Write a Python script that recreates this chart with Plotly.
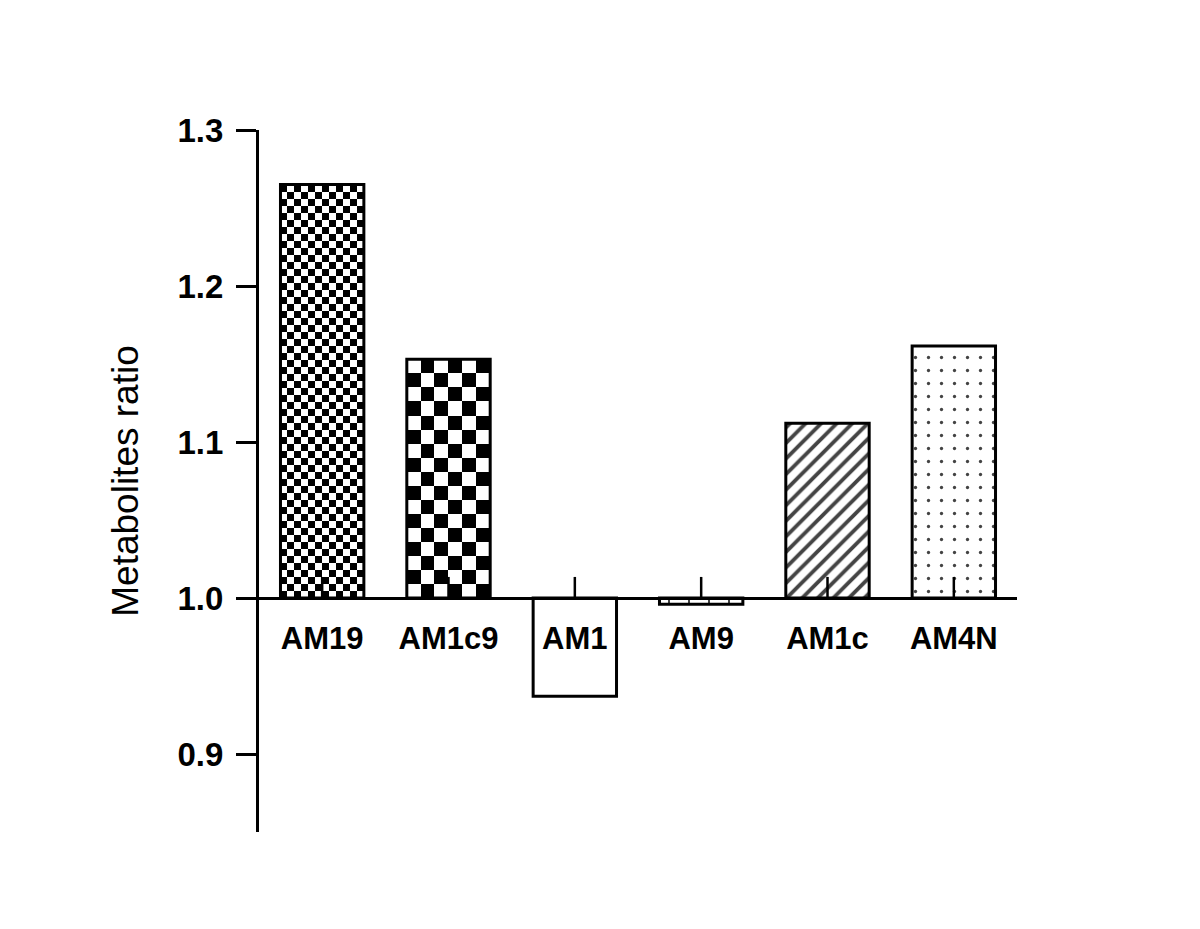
import plotly.graph_objects as go

categories = ["AM19", "AM1c9", "AM1", "AM9", "AM1c", "AM4N"]
values = [1.265, 1.153, 0.937, 0.996, 1.112, 1.1615]
err_up = [0.0135, 0.0135, 0.0135, 0.0135, 0.0135, 0.0135]
baseline = 1.0
y_ticks = [0.9, 1.0, 1.1, 1.2, 1.3]
y_tick_labels = ["0.9", "1.0", "1.1", "1.2", "1.3"]
y_range = [0.85, 1.3]

bar_width = 0.66
# checkerboard bars: category index -> (columns, rows)
checker = {0: (12, 59), 1: (6, 17)}

pattern_shapes = ["", "", "", "|", "/", "."]
pattern_sizes = [10, 10, 10, 20, 11, 13]
pattern_solid = [0.3, 0.3, 0.3, 0.1, 0.35, 0.05]
fills = ["rgba(0,0,0,0)", "rgba(0,0,0,0)", "white", "white", "white", "white"]

xs = list(range(len(categories)))
fig = go.Figure()

# checkerboard fills
for i, (nc, nr) in checker.items():
    x0 = xs[i] - bar_width / 2
    xe = [x0 + bar_width * c / nc for c in range(nc + 1)]
    ye = [baseline + (values[i] - baseline) * r / nr for r in range(nr + 1)]
    z = [[(r + c + (1 if i == 0 else 0)) % 2 for c in range(nc)] for r in range(nr)]
    fig.add_trace(go.Heatmap(
        x=xe, y=ye, z=z, zmin=0, zmax=1,
        colorscale=[[0, "white"], [1, "black"]],
        showscale=False, hoverinfo="skip",
    ))

fig.add_trace(go.Bar(
    x=xs,
    y=[v - baseline for v in values],
    base=baseline,
    width=bar_width,
    marker=dict(
        color=fills,
        line=dict(color="black", width=3),
        pattern=dict(
            shape=pattern_shapes,
            size=pattern_sizes,
            solidity=pattern_solid,
            fgcolor="black",
            fgopacity=1,
            bgcolor=fills,
            fillmode="overlay",
        ),
    ),
    showlegend=False,
))

fig.add_trace(go.Scatter(
    x=xs,
    y=[baseline] * len(xs),
    mode="markers",
    marker=dict(size=1, color="rgba(0,0,0,0)"),
    error_y=dict(type="data", symmetric=False, array=err_up,
                 arrayminus=[0] * len(xs), width=0, thickness=2.5, color="black"),
    showlegend=False,
    hoverinfo="skip",
))

fig.update_layout(
    width=1200, height=929,
    paper_bgcolor="white", plot_bgcolor="white",
    margin=dict(l=259, r=183, t=130, b=97),
    font=dict(family="Liberation Sans, Arial, sans-serif", color="black"),
    showlegend=False,
    xaxis=dict(
        range=[-0.5, len(categories) - 0.5],
        tickvals=xs, ticktext=categories,
        showgrid=False, zeroline=False,
        showline=True, linecolor="black", linewidth=3,
        ticks="", anchor="free",
        position=(baseline - y_range[0]) / (y_range[1] - y_range[0]),
        tickfont=dict(size=31, family="Liberation Sans, Arial, sans-serif", weight="bold"),
        ticklabelstandoff=12,
    ),
    yaxis=dict(
        range=y_range,
        tickvals=y_ticks, ticktext=y_tick_labels,
        showgrid=False, zeroline=False,
        showline=True, linecolor="black", linewidth=3,
        ticks="outside", ticklen=20, tickwidth=3, tickcolor="black",
        tickfont=dict(size=33, family="Liberation Sans, Arial, sans-serif", weight="bold"),
        ticklabelstandoff=6,
        title=dict(text="Metabolites ratio",
                   font=dict(size=37, family="Liberation Sans, Arial, sans-serif"),
                   standoff=28),
    ),
)

fig.write_html("out.html", config={"displayModeBar": False},
               post_script="document.body.style.margin='0';")
